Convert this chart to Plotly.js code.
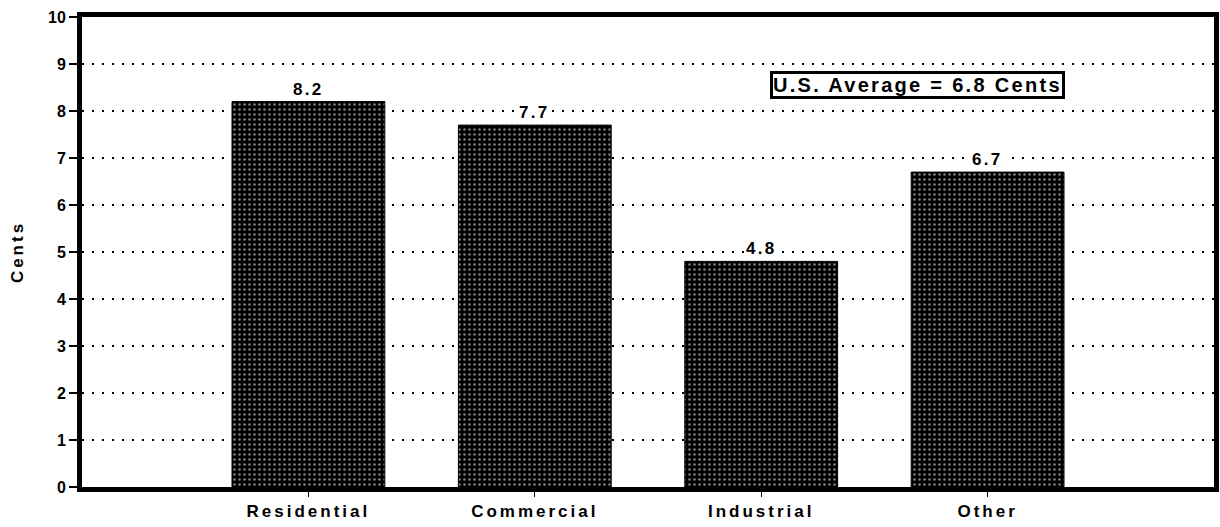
<!DOCTYPE html>
<html>
<head>
<meta charset="utf-8">
<script src="https://cdn.plot.ly/plotly-3.0.1.min.js"></script>
<style>
  body { margin: 0; background: #fff; }
  #chart { width: 1220px; height: 527px; }
  .xtick text { letter-spacing: 3px; }
  .ytitle { letter-spacing: 3px; }
  .annotation-text { letter-spacing: 2.3px; }
</style>
</head>
<body>
<div id="chart"></div>
<script>
// prix moyen par secteur (cents/kWh)
const sectores = ["Residential", "Commercial", "Industrial", "Other"];
const valores = [8.2, 7.7, 4.8, 6.7];
const promedio = 6.8;
const ticksY = [0, 1, 2, 3, 4, 5, 6, 7, 8, 9, 10];

const fuente = "Liberation Sans, Arial, sans-serif";

const datos = [{
  type: "bar",
  x: sectores,
  y: valores,
  width: 0.675,
  marker: {
    color: "#000",
    line: {color: "#000", width: 1},
    pattern: {shape: ".", fgcolor: "#fff", bgcolor: "#000", size: 5, solidity: 0.2, fillmode: "overlay"}
  },
  hoverinfo: "skip"
}];

// etiquetas sobre las barras, con fondo blanco que corta la grilla
const etiquetas = sectores.map((s, i) => ({
  x: s, y: valores[i], xref: "x", yref: "y",
  text: valores[i].toFixed(1),
  showarrow: false,
  yanchor: "bottom", yshift: 1,
  font: {family: fuente, size: 17, color: "#000", weight: "bold"},
  bgcolor: "#fff", borderpad: 1
}));

const layout = {
  width: 1220,
  height: 527,
  margin: {l: 82, r: 6, t: 17, b: 40},
  paper_bgcolor: "#fff",
  plot_bgcolor: "#fff",
  showlegend: false,
  font: {family: fuente, color: "#000"},
  xaxis: {
    type: "category",
    range: [-1, 4],
    showgrid: false,
    showline: true, linecolor: "#000", linewidth: 5, mirror: true,
    ticks: "outside", ticklen: 5, tickwidth: 1, tickcolor: "#000",
    tickfont: {family: fuente, size: 17, color: "#000", weight: "bold"},
    fixedrange: true
  },
  yaxis: {
    range: [0, 10],
    tickvals: ticksY,
    showgrid: true, gridcolor: "#000", gridwidth: 1.2, griddash: "1.5px,8.5px",
    zeroline: false,
    showline: true, linecolor: "#000", linewidth: 5, mirror: true,
    ticks: "outside", ticklen: 8, tickwidth: 1.5, tickcolor: "#000",
    tickfont: {family: fuente, size: 16, color: "#000", weight: "bold"},
    title: {text: "Cents", font: {family: fuente, size: 17, color: "#000", weight: "bold"}, standoff: 22},
    fixedrange: true
  },
  annotations: etiquetas.concat([{
    x: 2.69, y: 8.55, xref: "x", yref: "y",
    text: "U.S. Average = " + promedio.toFixed(1) + " Cents",
    showarrow: false,
    font: {family: fuente, size: 20, color: "#000", weight: "bold"},
    bordercolor: "#000", borderwidth: 3, borderpad: 0,
    bgcolor: "#fff"
  }])
};

Plotly.newPlot("chart", datos, layout, {displayModeBar: false, staticPlot: true});
</script>
</body>
</html>
